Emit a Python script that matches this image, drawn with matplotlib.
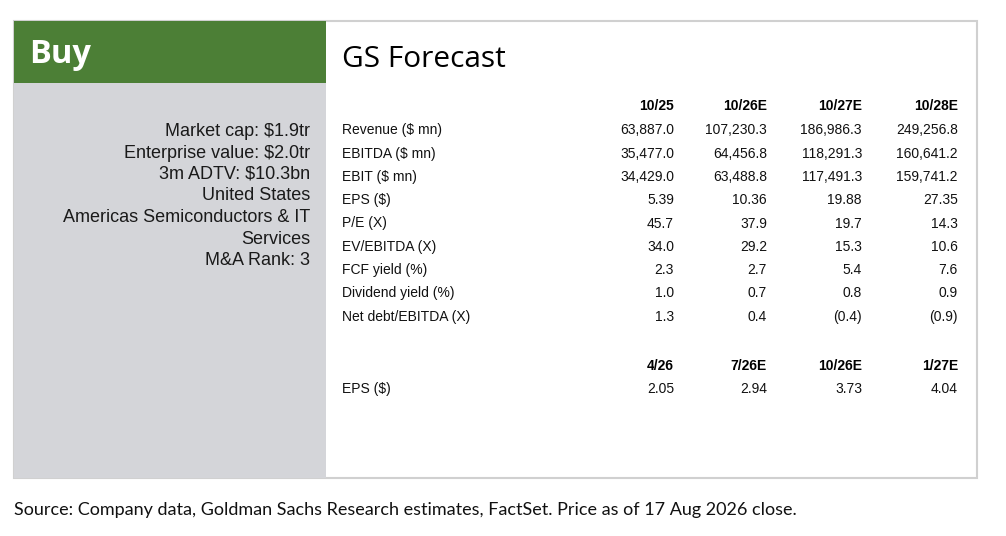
import matplotlib
matplotlib.use("Agg")
import matplotlib.pyplot as plt
from matplotlib.patches import Rectangle

# ---------------- data ----------------
rating = "Buy"
title = "GS Forecast"
company_info = [
    "Market cap: $1.9tr",
    "Enterprise value: $2.0tr",
    "3m ADTV: $10.3bn",
    "United States",
    "Americas Semiconductors & IT",
    "Services",
    "M&A Rank: 3",
]
annual_periods = ["10/25", "10/26E", "10/27E", "10/28E"]
metrics = ["Revenue ($ mn)", "EBITDA ($ mn)", "EBIT ($ mn)", "EPS ($)", "P/E (X)",
           "EV/EBITDA (X)", "FCF yield (%)", "Dividend yield (%)", "Net debt/EBITDA (X)"]
revenue = [63887.0, 107230.3, 186986.3, 249256.8]
ebitda = [35477.0, 64456.8, 118291.3, 160641.2]
ebit = [34429.0, 63488.8, 117491.3, 159741.2]
eps = [5.39, 10.36, 19.88, 27.35]
pe = [45.7, 37.9, 19.7, 14.3]
ev_ebitda = [34.0, 29.2, 15.3, 10.6]
fcf_yield = [2.3, 2.7, 5.4, 7.6]
div_yield = [1.0, 0.7, 0.8, 0.9]
net_debt_ebitda = [1.3, 0.4, -0.4, -0.9]
decimals = [1, 1, 1, 2, 1, 1, 1, 1, 1]

quarter_periods = ["4/26", "7/26E", "10/26E", "1/27E"]
quarter_metric = "EPS ($)"
quarter_eps = [2.05, 2.94, 3.73, 4.04]

source = "Source: Company data, Goldman Sachs Research estimates, FactSet. Price as of 17 Aug 2026 close."

rows = [revenue, ebitda, ebit, eps, pe, ev_ebitda, fcf_yield, div_yield, net_debt_ebitda]


def fmt(v, d):
    s = f"{abs(v):,.{d}f}"
    return f"({s})" if v < 0 else s


# ---------------- layout ----------------
W, H = 1006, 536
fig = plt.figure(figsize=(W / 100, H / 100), dpi=100)
ax = fig.add_axes([0, 0, 1, 1])
ax.set_xlim(0, W)
ax.set_ylim(H, 0)
ax.axis("off")

green = "#4c7f36"
grey = "#d4d5d9"
border = "#d0d0d0"

left, right, top, bottom = 14, 977, 21, 478
split, green_bottom = 326, 83

# outer frame
ax.add_patch(Rectangle((left, top), right - left, bottom - top, facecolor="white",
                       edgecolor=border, linewidth=1.5, zorder=0))
ax.add_patch(Rectangle((left, green_bottom), split - left, bottom - green_bottom,
                       facecolor=grey, edgecolor="none", zorder=1))
ax.add_patch(Rectangle((left, top), split - left, green_bottom - top,
                       facecolor=green, edgecolor="none", zorder=1))

ax.text(29, 63, rating, color="white", fontsize=23.5, fontweight="bold",
        family=["Open Sans", "DejaVu Sans"], va="baseline", ha="left", zorder=2)
ax.text(342, 67, title, color="black", fontsize=21.5,
        family=["Open Sans", "DejaVu Sans"], va="baseline", ha="left", zorder=2)

# company info block
info_font = ["Liberation Sans", "DejaVu Sans"]
for i, line in enumerate(company_info):
    ax.text(310, 136 + 21.5 * i, line, fontsize=13, color="#1a1a1a",
            family=info_font, ha="right", va="baseline", zorder=2)

# table
tbl_font = ["Liberation Sans", "DejaVu Sans"]
col_right = [674, 767, 862, 958]
label_x = 342
tfs = 10

for j, p in enumerate(annual_periods):
    ax.text(col_right[j], 110, p, fontsize=tfs, fontweight="bold", family=tbl_font,
            ha="right", va="baseline", color="black")

row_step = 23.3
for i, (name, vals, d) in enumerate(zip(metrics, rows, decimals)):
    y = 134.3 + row_step * i
    ax.text(label_x, y, name, fontsize=tfs, family=tbl_font, ha="left",
            va="baseline", color="#111111")
    for j, v in enumerate(vals):
        ax.text(col_right[j], y, fmt(v, d), fontsize=tfs, family=tbl_font,
                ha="right", va="baseline", color="#111111")

for j, p in enumerate(quarter_periods):
    ax.text(col_right[j], 370, p, fontsize=tfs, fontweight="bold", family=tbl_font,
            ha="right", va="baseline", color="black")
ax.text(label_x, 393, quarter_metric, fontsize=tfs, family=tbl_font, ha="left",
        va="baseline", color="#111111")
for j, v in enumerate(quarter_eps):
    ax.text(col_right[j], 393, fmt(v, 2), fontsize=tfs, family=tbl_font,
            ha="right", va="baseline", color="#111111")

ax.text(14, 515, source, fontsize=13, family=["Lato", "DejaVu Sans"],
        ha="left", va="baseline", color="#111111")

fig.savefig("out.png", dpi=100, facecolor="white")
